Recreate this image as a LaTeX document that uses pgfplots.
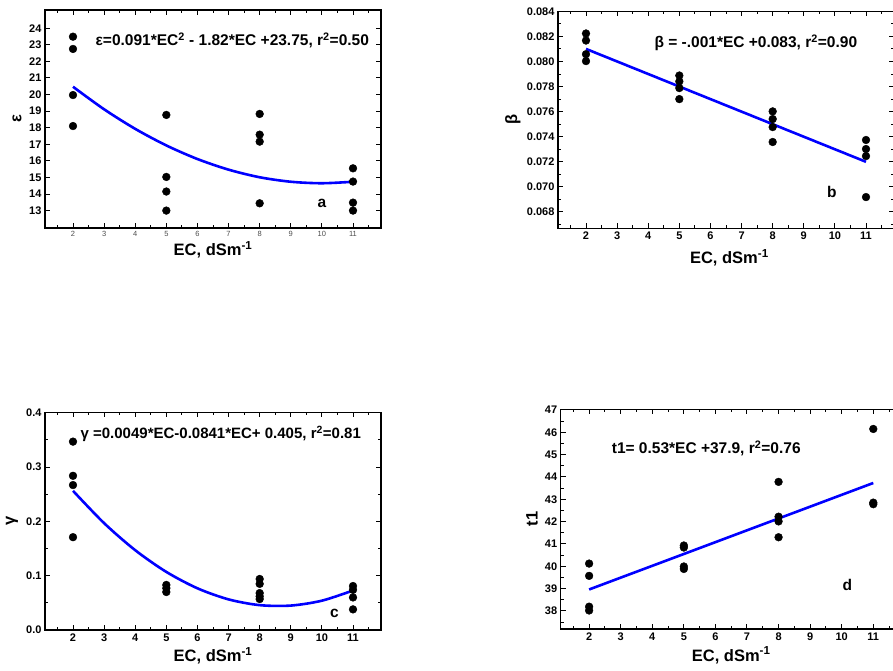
\documentclass[border=0pt]{standalone}
\usepackage{pgfplots}
\pgfplotsset{compat=1.18}
\usepackage{fontspec}
\setmainfont{Liberation Sans}

\pgfplotsset{
  panel/.style={
    scale only axis, anchor=south west, clip=false,
    xmin=1.1, xmax=11.9,
    xtick={2,...,11},
    minor xtick={1.5,2.5,...,11.5},
    axis line style={line width=1.4pt},
    tick align=inside,
    major tick length=5pt, minor tick length=3pt,
    every tick/.style={black, line width=1pt},
    tick label style={font=\bfseries\fontsize{11}{11}\selectfont},
    /pgf/number format/assume math mode=true,
    label style={font=\bfseries\fontsize{16.5}{16.5}\selectfont},
    xlabel={EC, dSm\textsuperscript{-1}},
    scaled y ticks=false,
  },
  dots/.style={only marks, mark=*, mark size=3.9pt, black},
  fit/.style={blue, line width=2.6pt, smooth, no markers},
}
\tikzset{note/.style={font=\bfseries\fontsize{15.5}{15.5}\selectfont}}

\begin{document}
\begin{tikzpicture}[x=1pt,y=1pt]
\path[use as bounding box, clip] (0,0) rectangle (893,670);

% a
\begin{axis}[panel, at={(45pt,442pt)}, width=336pt, height=218pt,
  ymin=11.95, ymax=25.1, ytick={13,...,24},
  xticklabel style={font=\fontsize{7.5}{7.5}\selectfont, gray!60!black},
  xlabel style={at={(axis description cs:0.5,-0.101)}, anchor=center},
  ylabel={ε}, ylabel style={at={(axis description cs:-0.083,0.5)}, anchor=center}]
\addplot[dots] coordinates {
  (2,23.49) (2,22.75) (2,19.97) (2,18.10)
  (5,18.77) (5,15.03) (5,14.15) (5,13.00)
  (8,18.83) (8,17.58) (8,17.16) (8,13.44)
  (11,15.55) (11,14.75) (11,13.48) (11,13.00)};
\addplot[fit] coordinates {
  (2,20.47) (3,19.11) (4,17.93) (5,16.93) (6,16.11) (7,15.47)
  (8,15.01) (9,14.74) (10,14.65) (11,14.74)};
\node[note, anchor=base] at (axis cs:7.12,22.95)
  {ε=0.091*EC\textsuperscript{2} - 1.82*EC +23.75, r\textsuperscript{2}=0.50};
\node[note] at (axis cs:10.0,13.45) {a};
\end{axis}

% b
\begin{axis}[panel, at={(558pt,441.7pt)}, width=336pt, height=217pt,
  ymin=0.0667, ymax=0.0840,
  ytick={0.068,0.070,...,0.084},
  minor ytick={0.067,0.069,...,0.083},
  yticklabel style={/pgf/number format/fixed, /pgf/number format/fixed zerofill,
    /pgf/number format/precision=3},
  xlabel style={at={(axis description cs:0.51,-0.137)}, anchor=center},
  ylabel={β}, ylabel style={at={(axis description cs:-0.134,0.5)}, anchor=center}]
\addplot[dots] coordinates {
  (2,0.08223) (2,0.08167) (2,0.08058) (2,0.08003)
  (5,0.07888) (5,0.07841) (5,0.07788) (5,0.07700)
  (8,0.07602) (8,0.07541) (8,0.07477) (8,0.07358)
  (11,0.07374) (11,0.07302) (11,0.07246) (11,0.06919)};
\addplot[fit] coordinates {(2,0.081) (11,0.072)};
\node[note, anchor=base] at (axis cs:7.46,0.08108)
  {β = -.001*EC +0.083, r\textsuperscript{2}=0.90};
\node[note] at (axis cs:9.9,0.0696) {b};
\end{axis}

% c
\begin{axis}[panel, at={(45pt,40pt)}, width=336pt, height=217.7pt,
  ymin=0, ymax=0.401,
  ytick={0,0.1,...,0.4},
  minor ytick={0.05,0.15,...,0.35},
  yticklabel style={/pgf/number format/fixed, /pgf/number format/fixed zerofill,
    /pgf/number format/precision=1},
  xlabel style={at={(axis description cs:0.5,-0.118)}, anchor=center},
  ylabel={γ}, ylabel style={at={(axis description cs:-0.098,0.5)}, anchor=center}]
\addplot[dots] coordinates {
  (2,0.347) (2,0.284) (2,0.267) (2,0.171)
  (5,0.083) (5,0.077) (5,0.070)
  (8,0.094) (8,0.085) (8,0.068) (8,0.062) (8,0.057)
  (11,0.081) (11,0.074) (11,0.060) (11,0.038)};
\addplot[fit] coordinates {
  (2,0.2564) (3,0.1968) (4,0.1470) (5,0.1070) (6,0.0768) (7,0.0564)
  (8,0.0458) (9,0.0450) (10,0.0540) (11,0.0728)};
\node[note, anchor=base, font=\bfseries\fontsize{15}{15}\selectfont] at (axis cs:6.75,0.353)
  {γ =0.0049*EC-0.0841*EC+ 0.405, r\textsuperscript{2}=0.81};
\node[note] at (axis cs:10.4,0.031) {c};
\end{axis}

% d
\begin{axis}[panel, at={(560.7pt,41pt)}, width=341pt, height=219.7pt,
  ymin=37.19, ymax=47.03,
  ytick={38,...,47},
  minor ytick={37.5,38.5,...,46.5},
  xlabel style={at={(axis description cs:0.5,-0.12)}, anchor=center},
  ylabel={t1}, ylabel style={at={(axis description cs:-0.084,0.5)}, anchor=center}]
\addplot[dots] coordinates {
  (2,40.12) (2,39.57) (2,38.19) (2,38.02)
  (5,40.93) (5,40.84) (5,39.99) (5,39.88)
  (8,43.78) (8,42.22) (8,42.01) (8,41.30)
  (11,46.15) (11,42.85) (11,42.78)};
\addplot[fit] coordinates {(2,38.96) (11,43.73)};
\node[note, anchor=base] at (axis cs:5.71,45.06)
  {t1= 0.53*EC +37.9, r\textsuperscript{2}=0.76};
\node[note] at (axis cs:10.18,39.16) {d};
\end{axis}
\end{tikzpicture}
\end{document}
